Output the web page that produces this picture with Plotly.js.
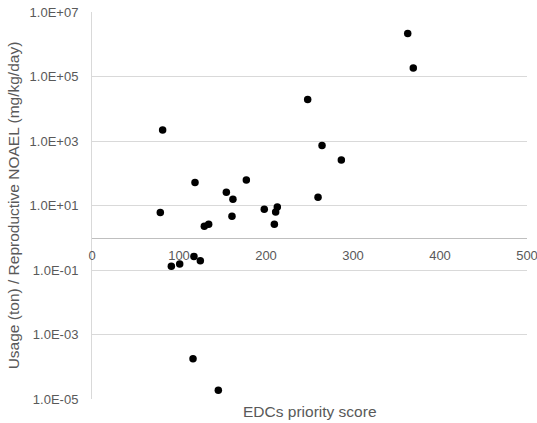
<!DOCTYPE html>
<html>
<head>
<meta charset="utf-8">
<script src="https://cdn.plot.ly/plotly-3.0.1.min.js"></script>
<style>html,body{margin:0;padding:0;background:#fff;}#chart{width:537px;height:423px;}</style>
</head>
<body>
<div id="chart"></div>
<script>
// EDCs priority score
const priorityScore = [362.9, 369.3, 247.9, 264.4, 286.6, 259.8, 213.0, 211.1, 209.6, 198.0,
  81.2, 118.4, 154.4, 162.0, 177.4, 78.5, 160.9, 129.1, 134.1,
  91.2, 100.8, 117.2, 124.5, 116.1, 145.2];
// log10 of Usage (ton) / Reproductive NOAEL (mg/kg/day)
const logRatio = [6.33, 5.26, 4.29, 2.86, 2.41, 1.255, 0.95, 0.80, 0.416, 0.88,
  3.34, 1.71, 1.41, 1.19, 1.79, 0.78, 0.665, 0.36, 0.416,
  -0.88, -0.817, -0.58, -0.71, -3.755, -4.73];
const ratio = logRatio.map(v => Math.pow(10, v));

const yTickVals = [1e-5, 1e-3, 1e-1, 1e1, 1e3, 1e5, 1e7];
const yTickText = ["1.0E-05", "1.0E-03", "1.0E-01", "1.0E+01", "1.0E+03", "1.0E+05", "1.0E+07"];
const xTickVals = [0, 100, 200, 300, 400, 500];
const xTickText = ["0", "100", "200", "300", "400", "500"];

const xTitle = "EDCs priority score";
const yTitle = "Usage (ton) / Reproductive NOAEL (mg/kg/day)";

const font = "Liberation Sans, Arial, sans-serif";

const trace = {
  x: priorityScore, y: ratio, type: "scatter", mode: "markers",
  marker: {color: "#000000", size: 7.5},
  cliponaxis: false, hoverinfo: "skip"
};

const layout = {
  width: 537, height: 423,
  margin: {l: 92, r: 10, t: 12, b: 24, pad: 0},
  paper_bgcolor: "#ffffff", plot_bgcolor: "#ffffff",
  showlegend: false,
  font: {family: font, size: 13, color: "#595959"},
  xaxis: {
    range: [0, 500], tickvals: xTickVals, ticktext: xTickText,
    anchor: "free", position: 5/12,
    showgrid: false, zeroline: false,
    showline: true, linecolor: "#bfbfbf", linewidth: 1,
    ticks: "", ticklabelstandoff: 6, ticklabeloverflow: "allow",
    tickfont: {family: font, size: 13, color: "#595959"}
  },
  yaxis: {
    type: "log", range: [-5, 7], tickvals: yTickVals, ticktext: yTickText,
    showgrid: true, gridcolor: "#d9d9d9", gridwidth: 1,
    zeroline: false, showline: true, linecolor: "#d9d9d9", linewidth: 1,
    ticks: "", ticklabelstandoff: 10,
    tickfont: {family: font, size: 13, color: "#595959"},
    title: {text: yTitle, font: {family: font, size: 15.5, color: "#595959"}, standoff: 6}
  },
  annotations: [{
    text: xTitle, xref: "paper", yref: "paper", x: 0.5, y: 0,
    yshift: -12, xanchor: "center", yanchor: "middle", showarrow: false,
    font: {family: font, size: 15.5, color: "#595959"}
  }]
};

Plotly.newPlot("chart", [trace], layout, {displayModeBar: false, staticPlot: true});
</script>
</body>
</html>
